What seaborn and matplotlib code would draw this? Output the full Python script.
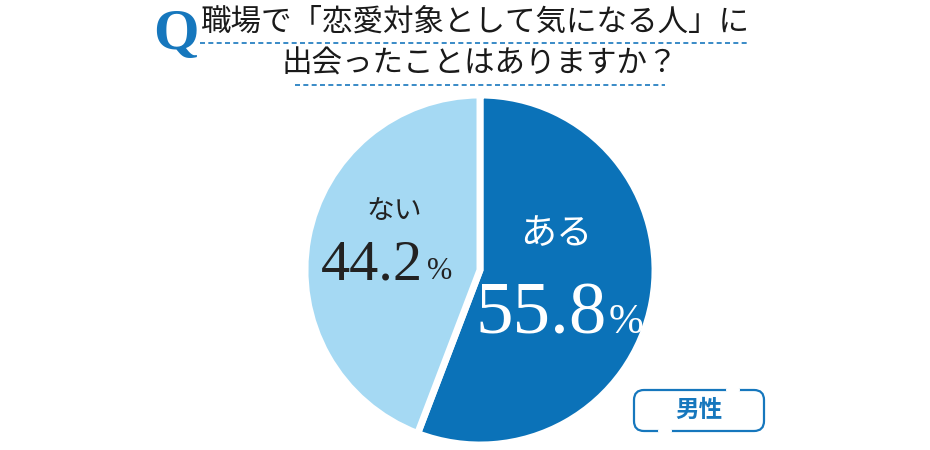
import matplotlib
matplotlib.use("Agg")
import matplotlib.pyplot as plt
import seaborn as sns
from matplotlib.patches import FancyBboxPatch

sns.set_theme(style="white")
plt.rcParams['font.family'] = ['Noto Sans CJK JP', 'DejaVu Sans']

# ---- data ----
labels = ["ある", "ない"]
values = [55.8, 44.2]
value_texts = ["55.8", "44.2"]
title_line1 = "職場で「恋愛対象として気になる人」に"
title_line2 = "出会ったことはありますか？"
group_label = "男性"

palette = sns.color_palette(["#0b72b8", "#a5d9f3"])
blue = "#1677bd"

W, H = 930, 450
fig = plt.figure(figsize=(W / 100, H / 100), dpi=100)
ax = fig.add_axes([0, 0, 1, 1])

def Y(y):
    return H - y

cx, cy, r = 480, 270, 175
ax.pie(values, colors=palette, startangle=90, counterclock=False,
       center=(cx, Y(cy)), radius=r, explode=[0.02, 0.02],
       wedgeprops=dict(edgecolor="white", linewidth=5))
ax.set_xlim(0, W)
ax.set_ylim(0, H)
ax.set_aspect("equal")
ax.axis("off")

serif = "Liberation Serif"

# ある 55.8%
ax.text(556, Y(234), labels[0], color="white", fontsize=26, ha="center", va="center")
ax.text(541, Y(334), value_texts[0], color="white", fontsize=54, family=serif,
        ha="center", va="baseline")
ax.text(626, Y(333), "%", color="white", fontsize=30, family=serif,
        ha="center", va="baseline")

# ない 44.2%
ax.text(394, Y(211), labels[1], color="#222222", fontsize=20, ha="center", va="center")
ax.text(372, Y(280), value_texts[1], color="#222222", fontsize=42, family=serif,
        ha="center", va="baseline")
ax.text(440, Y(279), "%", color="#222222", fontsize=22, family=serif,
        ha="center", va="baseline")

# title
ax.text(176, Y(49), "Q", color=blue, fontsize=42, family=serif, fontweight="bold",
        ha="center", va="baseline")
ax.text(475, Y(22), title_line1, color="#1a1a1a", fontsize=22, ha="center", va="center")
ax.text(480, Y(64), title_line2, color="#1a1a1a", fontsize=22, ha="center", va="center")
ax.plot([200, 748], [Y(43), Y(43)], color=blue, lw=1.2, ls=(0, (3, 2)))
ax.plot([295, 665], [Y(85), Y(85)], color=blue, lw=1.2, ls=(0, (3, 2)))

# group box
box = FancyBboxPatch((634, Y(431)), 130, 41, boxstyle="round,pad=0,rounding_size=10",
                     fc="white", ec=blue, lw=1.6)
ax.add_patch(box)
ax.plot([728, 738], [Y(390), Y(390)], color="white", lw=3)
ax.plot([660, 670], [Y(431), Y(431)], color="white", lw=3)
ax.text(699, Y(410), group_label, color=blue, fontsize=17, fontweight="bold",
        ha="center", va="center")

fig.savefig("out.png", dpi=100)
